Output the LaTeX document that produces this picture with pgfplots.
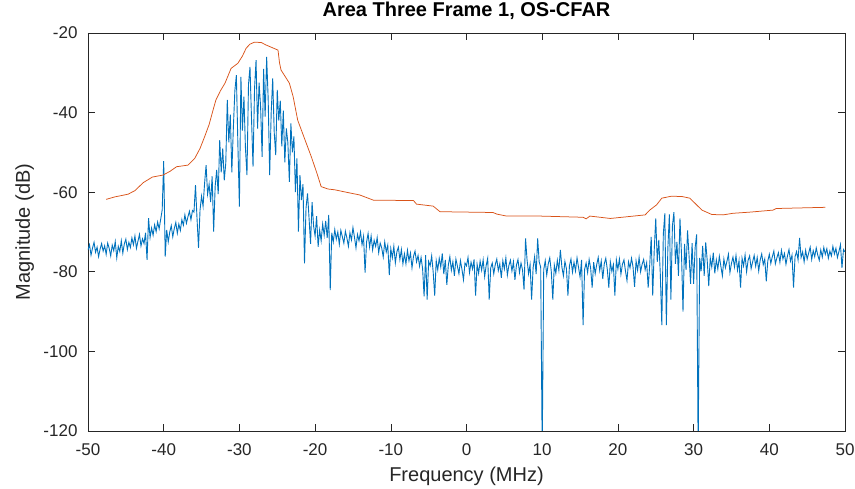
\documentclass[border=0pt]{standalone}
\usepackage{pgfplots}
\pgfplotsset{compat=1.18}
\usepackage{fontspec}
\setmainfont{Liberation Sans}
\definecolor{mblue}{HTML}{0072BD}
\definecolor{mred}{HTML}{D95319}
\definecolor{axgray}{HTML}{262626}
\begin{document}
\begin{tikzpicture}
\useasboundingbox (-88pt,-58pt) rectangle (767pt,431pt);
\begin{axis}[
  at={(0,0)}, anchor=south west,
  scale only axis, width=757pt, height=398pt,
  xmin=-50, xmax=50, ymin=-120, ymax=-20,
  xtick={-50,-40,...,50}, ytick={-120,-100,...,-20},
  tick align=inside, major tick length=7pt,
  axis line style={axgray, line width=0.6pt},
  tick style={axgray, line width=0.6pt},
  /pgf/number format/assume math mode=true,
  ticklabel style={font=\fontsize{17}{20}\selectfont, text=axgray},
  xticklabel style={yshift=-9pt},
  yticklabel style={xshift=-7pt},
  xlabel={Frequency (MHz)}, ylabel={Magnitude (dB)},
  label style={font=\fontsize{20}{24}\selectfont, text=axgray},
  xlabel style={at={([yshift=-51pt]axis description cs:0.5,0)}, anchor=base},
  ylabel style={at={([xshift=-58pt]axis description cs:0,0.5)}, anchor=base, rotate=0},
  title={Area Three Frame 1, OS-CFAR},
  title style={font=\bfseries\fontsize{20}{24}\selectfont, text=black,
    at={([yshift=10pt]axis description cs:0.5,1)}, anchor=base},
]
\addplot[mblue, line width=0.9pt] table[row sep=\\, header=false, x expr=-50+0.2*\coordindex, y index=0] {
-74.5\\ -73.2\\ -75.8\\ -74.0\\ -72.6\\ -75.1\\ -73.8\\ -76.2\\ -74.3\\ -72.9\\
-74.8\\ -73.5\\ -75.6\\ -72.8\\ -74.1\\ -76.0\\ -73.3\\ -74.7\\ -72.4\\ -76.5\\
-73.6\\ -74.9\\ -72.2\\ -75.3\\ -73.0\\ -71.8\\ -74.4\\ -72.6\\ -73.9\\ -71.5\\
-73.2\\ -71.0\\ -74.1\\ -72.3\\ -70.6\\ -73.5\\ -71.7\\ -72.9\\ -70.2\\ -77.0\\
-66.5\\ -71.4\\ -69.0\\ -70.8\\ -68.2\\ -69.9\\ -67.5\\ -69.2\\ -66.8\\ -64.5\\
-52.2\\ -76.2\\ -69.5\\ -72.5\\ -70.0\\ -68.4\\ -71.2\\ -69.1\\ -67.6\\ -70.3\\
-68.0\\ -69.6\\ -66.9\\ -68.3\\ -65.7\\ -67.8\\ -66.2\\ -64.8\\ -66.9\\ -64.6\\
-65.0\\ -58.2\\ -66.5\\ -74.0\\ -64.5\\ -61.0\\ -63.5\\ -57.8\\ -53.2\\ -60.5\\
-58.0\\ -62.5\\ -56.0\\ -69.9\\ -58.5\\ -54.4\\ -60.5\\ -46.9\\ -55.0\\ -49.0\\
-57.0\\ -52.7\\ -36.8\\ -47.5\\ -40.5\\ -55.0\\ -43.9\\ -34.5\\ -30.6\\ -48.0\\
-63.6\\ -31.0\\ -44.5\\ -36.0\\ -49.0\\ -55.7\\ -33.0\\ -28.5\\ -41.5\\ -53.6\\
-34.0\\ -26.8\\ -44.0\\ -32.5\\ -38.5\\ -51.1\\ -29.0\\ -41.0\\ -26.0\\ -36.5\\
-55.7\\ -40.0\\ -31.4\\ -45.0\\ -50.7\\ -34.3\\ -42.0\\ -37.0\\ -48.5\\ -39.5\\
-52.5\\ -44.0\\ -47.5\\ -57.4\\ -42.7\\ -50.0\\ -46.0\\ -60.0\\ -51.5\\ -69.9\\
-55.7\\ -62.0\\ -58.0\\ -77.9\\ -64.0\\ -60.3\\ -66.5\\ -73.0\\ -62.5\\ -68.5\\
-71.0\\ -66.0\\ -73.7\\ -69.5\\ -72.2\\ -68.0\\ -70.8\\ -67.2\\ -71.5\\ -65.7\\
-84.6\\ -70.2\\ -72.5\\ -69.4\\ -71.8\\ -70.0\\ -73.1\\ -69.6\\ -71.2\\ -72.8\\
-69.8\\ -71.5\\ -73.6\\ -70.2\\ -72.0\\ -68.9\\ -71.3\\ -74.0\\ -70.6\\ -72.2\\
-70.0\\ -73.2\\ -71.1\\ -80.2\\ -72.5\\ -70.4\\ -73.8\\ -71.0\\ -74.5\\ -72.1\\
-73.6\\ -71.4\\ -75.2\\ -72.8\\ -74.0\\ -76.3\\ -72.5\\ -75.0\\ -73.3\\ -80.8\\
-74.2\\ -76.5\\ -73.6\\ -77.8\\ -75.0\\ -73.8\\ -76.9\\ -74.4\\ -78.0\\ -75.5\\
-78.0\\ -74.6\\ -77.2\\ -75.3\\ -79.0\\ -76.1\\ -74.8\\ -77.5\\ -75.9\\ -78.6\\
-76.4\\ -79.2\\ -86.2\\ -75.8\\ -87.0\\ -77.4\\ -78.5\\ -76.0\\ -80.1\\ -86.0\\
-77.2\\ -79.5\\ -76.6\\ -78.8\\ -75.4\\ -80.6\\ -77.0\\ -83.3\\ -78.3\\ -76.2\\
-79.6\\ -77.5\\ -81.0\\ -76.8\\ -78.6\\ -80.5\\ -77.2\\ -79.4\\ -82.0\\ -77.8\\
-78.5\\ -76.4\\ -80.2\\ -77.6\\ -79.3\\ -76.9\\ -86.0\\ -78.1\\ -80.4\\ -77.3\\
-79.6\\ -77.0\\ -81.2\\ -78.4\\ -76.6\\ -87.0\\ -79.0\\ -77.8\\ -80.5\\ -78.2\\
-76.8\\ -79.7\\ -78.0\\ -81.5\\ -77.2\\ -79.3\\ -76.5\\ -80.8\\ -78.4\\ -77.1\\
-79.8\\ -77.5\\ -82.0\\ -78.3\\ -76.9\\ -80.2\\ -77.8\\ -79.5\\ -84.5\\ -71.6\\
-77.0\\ -80.5\\ -78.2\\ -87.0\\ -79.0\\ -76.2\\ -80.6\\ -71.6\\ -77.5\\ -78.8\\
-125.0\\ -79.5\\ -77.2\\ -80.8\\ -78.0\\ -76.5\\ -79.9\\ -87.0\\ -78.3\\ -80.4\\
-77.1\\ -79.6\\ -74.5\\ -78.8\\ -81.0\\ -77.4\\ -79.2\\ -86.0\\ -78.5\\ -76.8\\
-80.1\\ -77.6\\ -79.8\\ -76.5\\ -78.9\\ -81.3\\ -77.0\\ -93.4\\ -79.4\\ -77.8\\
-80.2\\ -76.9\\ -79.1\\ -84.0\\ -77.6\\ -80.5\\ -78.2\\ -76.4\\ -79.7\\ -77.3\\
-81.8\\ -78.0\\ -76.6\\ -79.4\\ -84.0\\ -77.5\\ -79.9\\ -78.2\\ -86.0\\ -77.0\\
-79.3\\ -76.8\\ -80.6\\ -78.1\\ -77.0\\ -79.8\\ -82.2\\ -77.5\\ -79.0\\ -76.6\\
-78.8\\ -83.8\\ -77.3\\ -79.6\\ -76.4\\ -80.0\\ -78.1\\ -76.9\\ -79.5\\ -77.7\\
-84.0\\ -78.3\\ -71.2\\ -86.0\\ -74.5\\ -66.6\\ -77.5\\ -72.0\\ -80.5\\ -93.4\\
-70.5\\ -65.3\\ -93.4\\ -74.0\\ -65.6\\ -87.0\\ -68.5\\ -65.0\\ -78.0\\ -72.5\\
-81.0\\ -66.6\\ -75.5\\ -90.0\\ -73.0\\ -79.5\\ -69.6\\ -76.0\\ -83.0\\ -72.8\\
-83.0\\ -74.0\\ -70.6\\ -125.0\\ -76.5\\ -79.8\\ -73.5\\ -81.0\\ -72.6\\ -77.2\\
-83.6\\ -76.5\\ -78.8\\ -75.2\\ -80.4\\ -77.0\\ -79.3\\ -76.1\\ -78.6\\ -81.0\\
-76.8\\ -79.0\\ -77.4\\ -75.6\\ -80.2\\ -77.9\\ -76.3\\ -78.8\\ -75.9\\ -79.6\\
-77.2\\ -84.0\\ -76.6\\ -78.5\\ -75.8\\ -80.0\\ -77.1\\ -76.0\\ -79.2\\ -77.5\\
-75.9\\ -78.6\\ -76.4\\ -79.8\\ -77.0\\ -75.5\\ -78.2\\ -76.8\\ -82.4\\ -77.3\\
-75.6\\ -77.9\\ -76.2\\ -74.8\\ -78.0\\ -76.5\\ -75.2\\ -77.6\\ -74.6\\ -76.8\\
-75.4\\ -78.1\\ -76.0\\ -74.4\\ -77.3\\ -75.8\\ -84.0\\ -76.2\\ -74.9\\ -77.0\\
-71.5\\ -76.4\\ -75.0\\ -77.5\\ -74.6\\ -76.8\\ -75.3\\ -73.8\\ -76.9\\ -74.7\\
-76.2\\ -74.0\\ -75.8\\ -77.1\\ -74.5\\ -76.3\\ -73.9\\ -75.6\\ -74.2\\ -76.6\\
-74.8\\ -76.0\\ -73.6\\ -75.5\\ -74.1\\ -76.4\\ -74.9\\ -73.2\\ -79.0\\ -74.4\\
-75.0\\
};
\addplot[mred, line width=0.75pt] coordinates {
(-47.6,-61.8) (-46.5,-61.2) (-44.7,-60.5) (-43.8,-59.6) (-42.7,-57.6) (-41.5,-56.2)
(-40.1,-55.7) (-39.2,-54.8) (-38.3,-53.6) (-36.8,-53.2) (-35.9,-51.5) (-35.2,-49.0)
(-34.6,-46.1) (-34.0,-43.0) (-33.5,-39.5) (-33.1,-36.8) (-32.5,-34.5) (-31.9,-32.6)
(-31.1,-28.9) (-30.2,-27.6) (-29.6,-25.8) (-29.1,-23.8) (-28.6,-22.8) (-28.0,-22.3)
(-27.1,-22.4) (-26.5,-23.0) (-26.0,-23.4) (-24.9,-24.3) (-24.7,-27.5) (-24.5,-29.3)
(-23.4,-32.6) (-22.9,-36.0) (-22.3,-41.9) (-21.5,-46.0) (-20.5,-51.1) (-19.8,-55.0)
(-19.2,-58.6) (-18.3,-59.2) (-17.4,-59.4) (-15.9,-60.0) (-14.1,-60.7) (-12.3,-62.0)
(-7.0,-62.1) (-6.6,-63.0) (-4.4,-63.5) (-3.5,-64.9) (3.5,-65.1) (4.0,-65.5)
(5.3,-66.0) (9.7,-66.0) (15.4,-66.3) (15.8,-66.7) (16.3,-66.0) (19.0,-66.6)
(23.6,-65.7) (24.2,-64.5) (25.1,-63.2) (25.8,-61.5) (27.1,-61.0) (28.5,-61.1)
(29.5,-61.5) (30.3,-63.0) (31.1,-64.5) (32.4,-65.6) (33.9,-65.7) (35.2,-65.3)
(37.5,-65.0) (40.5,-64.5) (40.9,-64.1) (47.4,-63.8)
};
\end{axis}
\end{tikzpicture}
\end{document}
